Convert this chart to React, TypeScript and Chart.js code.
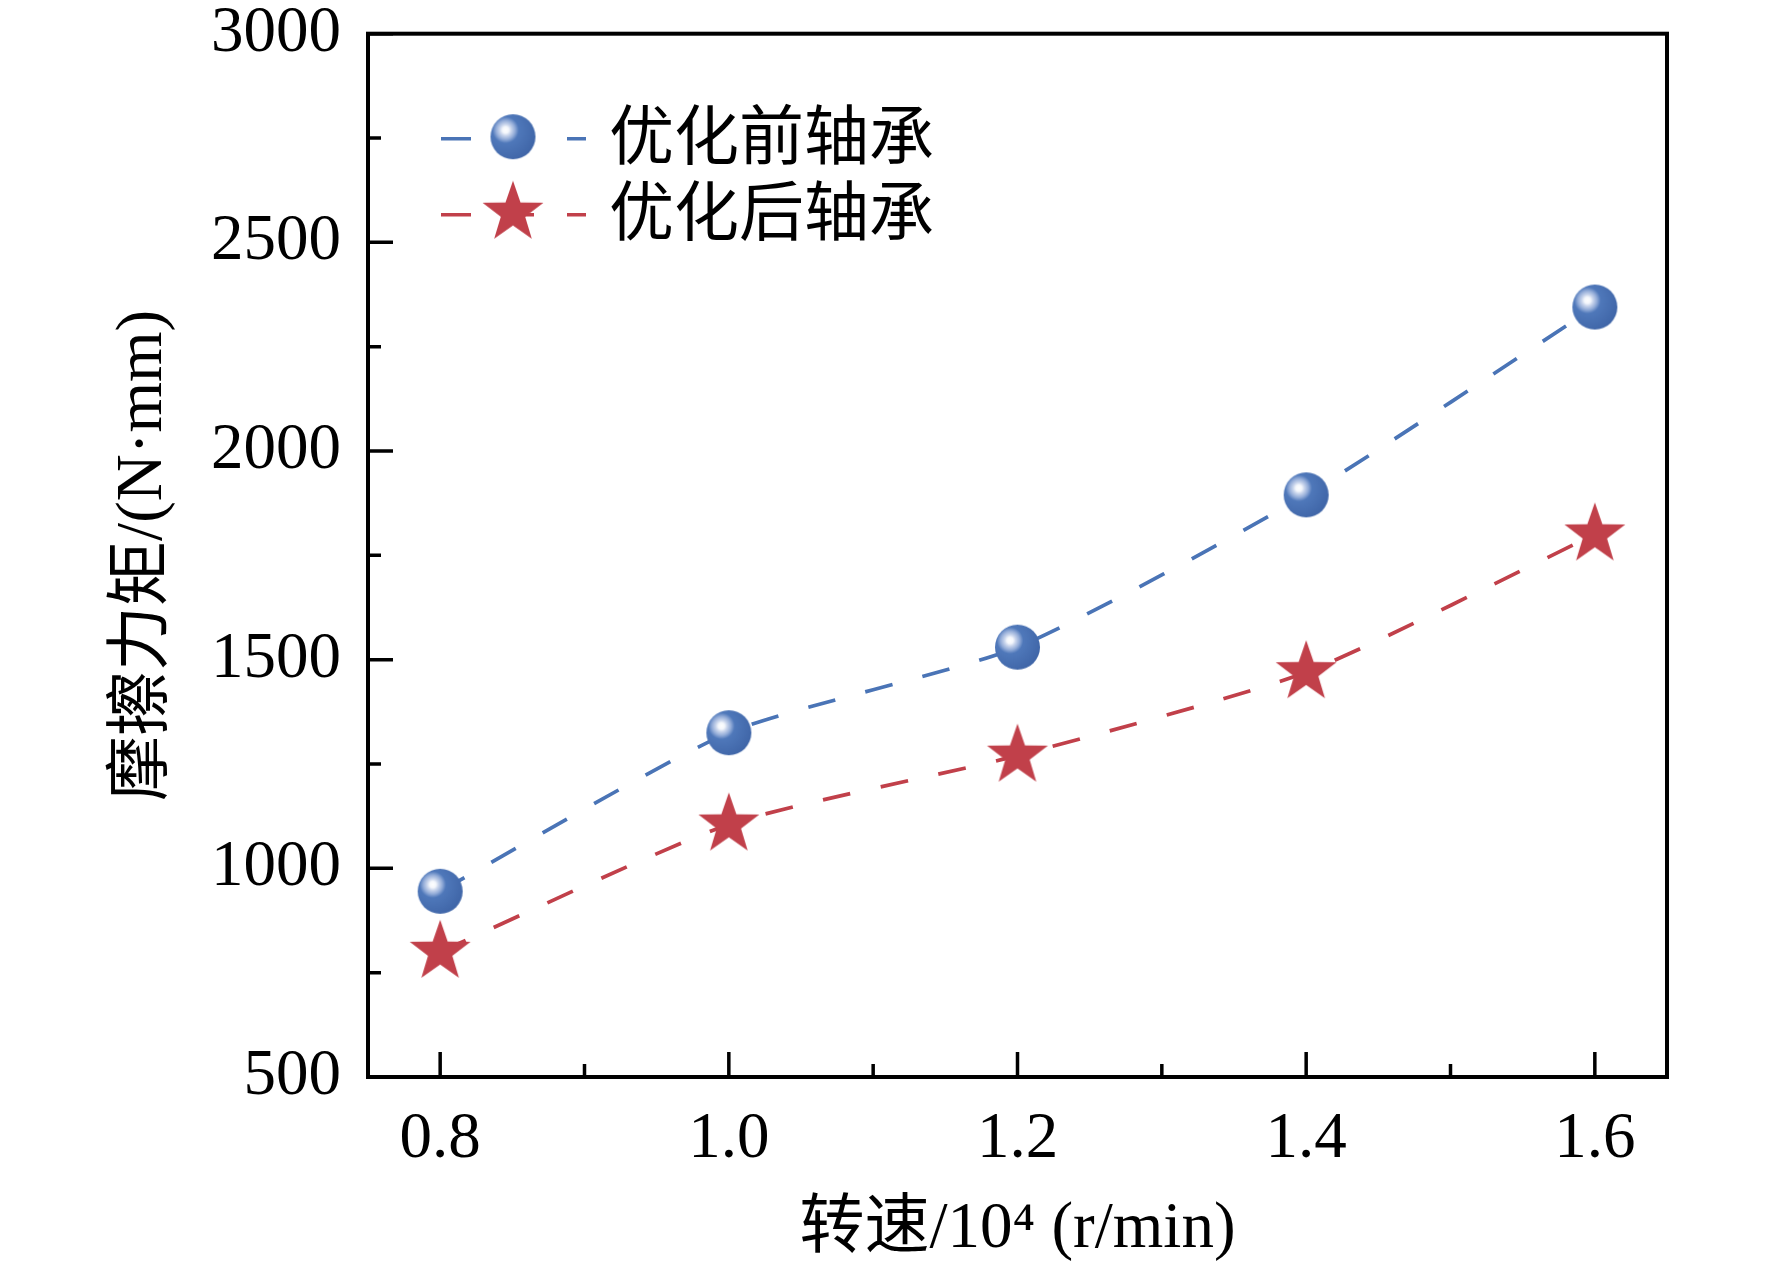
import { useEffect, useRef } from "react";
import { Chart, registerables } from "chart.js";

Chart.register(...registerables);

// data
const speeds = [0.8, 1.0, 1.2, 1.4, 1.6];
const beforeOpt = [945, 1325, 1530, 1895, 2345];
const afterOpt = [800, 1105, 1270, 1470, 1800];
const seriesNames = ["优化前轴承", "优化后轴承"];

const xTicks = [0.8, 1.0, 1.2, 1.4, 1.6];
const xMinor = [0.9, 1.1, 1.3, 1.5];
const yTicks = [500, 1000, 1500, 2000, 2500, 3000];
const yMinor = [750, 1250, 1750, 2250, 2750];

const BLUE = "#4a74b6";
const RED = "#c1404a";
const FONT = '"Liberation Serif", "Noto Sans CJK SC", serif';

function makeBall(r: number) {
  const c = document.createElement("canvas");
  const s = Math.ceil(r * 2 + 4);
  c.width = s;
  c.height = s;
  const g = c.getContext("2d")!;
  const cx = s / 2;
  const cy = s / 2;
  const hx = cx - r * 0.33;
  const hy = cy - r * 0.3;
  const grad = g.createRadialGradient(hx, hy, 0, hx, hy, r * 1.4);
  grad.addColorStop(0, "#ffffff");
  grad.addColorStop(0.1, "#f4f7fc");
  grad.addColorStop(0.18, "#c9d5ec");
  grad.addColorStop(0.3, "#93acd8");
  grad.addColorStop(0.42, "#4f78ba");
  grad.addColorStop(1, "#4066a8");
  g.fillStyle = grad;
  g.beginPath();
  g.arc(cx, cy, r, 0, Math.PI * 2);
  g.fill();
  return c;
}

function makeStar(R: number) {
  const c = document.createElement("canvas");
  const s = Math.ceil(R * 2 + 4);
  c.width = s;
  c.height = s;
  const g = c.getContext("2d")!;
  const cx = s / 2;
  const cy = s / 2;
  const rIn = R * 0.4;
  g.fillStyle = RED;
  g.beginPath();
  for (let k = 0; k < 10; k++) {
    const rr = k % 2 === 0 ? R : rIn;
    const a = -Math.PI / 2 + (k * Math.PI) / 5;
    const px = cx + rr * Math.cos(a);
    const py = cy + rr * Math.sin(a);
    if (k === 0) g.moveTo(px, py);
    else g.lineTo(px, py);
  }
  g.closePath();
  g.fill();
  return c;
}

const frameAndTicks = {
  id: "frameAndTicks",
  afterDraw(chart: any) {
    const { ctx, chartArea: a, scales } = chart;
    const x = scales.x;
    const y = scales.y;
    ctx.save();
    ctx.strokeStyle = "#000";
    ctx.lineWidth = 3.5;
    ctx.setLineDash([]);
    ctx.beginPath();
    xTicks.forEach((v) => {
      const p = x.getPixelForValue(v);
      ctx.moveTo(p, a.bottom);
      ctx.lineTo(p, a.bottom - 25);
    });
    xMinor.forEach((v) => {
      const p = x.getPixelForValue(v);
      ctx.moveTo(p, a.bottom);
      ctx.lineTo(p, a.bottom - 13);
    });
    yTicks.forEach((v) => {
      const p = y.getPixelForValue(v);
      ctx.moveTo(a.left, p);
      ctx.lineTo(a.left + 25, p);
    });
    yMinor.forEach((v) => {
      const p = y.getPixelForValue(v);
      ctx.moveTo(a.left, p);
      ctx.lineTo(a.left + 13, p);
    });
    ctx.stroke();
    ctx.lineWidth = 4;
    ctx.strokeRect(a.left, a.top, a.right - a.left, a.bottom - a.top);
    ctx.restore();
  },
};

export default function App() {
  const chartRef = useRef<HTMLCanvasElement>(null);
  const chartInstanceRef = useRef<Chart | null>(null);

  useEffect(() => {
    if (!chartRef.current) return;
    const ctx = chartRef.current.getContext("2d");
    if (!ctx) return;
    if (chartInstanceRef.current) chartInstanceRef.current.destroy();

    const ball = makeBall(22.5);
    const star = makeStar(32);

    const legendBox = {
      id: "legendBox",
      afterDraw(chart: any) {
        const c = chart.ctx;
        const a = chart.chartArea;
        const rows = [
          { y: a.top + 105, color: BLUE, img: ball, name: seriesNames[0] },
          { y: a.top + 181, color: RED, img: star, name: seriesNames[1] },
        ];
        c.save();
        rows.forEach((r) => {
          c.strokeStyle = r.color;
          c.lineWidth = 3.5;
          c.setLineDash([30, 33]);
          c.beginPath();
          c.moveTo(a.left + 73, r.y);
          c.lineTo(a.left + 218, r.y);
          c.stroke();
          c.setLineDash([]);
          c.drawImage(r.img, a.left + 145 - r.img.width / 2, r.y - 2 - r.img.height / 2);
          c.fillStyle = "#000";
          c.font = "65px " + FONT;
          c.textAlign = "left";
          c.textBaseline = "middle";
          c.fillText(r.name, a.left + 241, r.y + 3);
        });
        c.restore();
      },
    };

    chartInstanceRef.current = new Chart(ctx, {
      type: "line",
      data: {
        datasets: [
          {
            label: seriesNames[0],
            data: speeds.map((s, i) => ({ x: s, y: beforeOpt[i] })),
            borderColor: BLUE,
            borderWidth: 3.7,
            borderDash: [28, 31],
            tension: 0.2,
            pointStyle: ball as any,
            pointRadius: 22,
            fill: false,
          },
          {
            label: seriesNames[1],
            data: speeds.map((s, i) => ({ x: s, y: afterOpt[i] })),
            borderColor: RED,
            borderWidth: 3.7,
            borderDash: [28, 31],
            tension: 0.2,
            pointStyle: star as any,
            pointRadius: 30,
            fill: false,
          },
        ],
      },
      options: {
        animation: false,
        responsive: true,
        maintainAspectRatio: false,
        devicePixelRatio: 1,
        layout: { padding: { top: 32, right: 105, left: 0, bottom: 0 } },
        plugins: {
          legend: { display: false },
          tooltip: { enabled: false },
        },
        scales: {
          x: {
            type: "linear",
            min: 0.75,
            max: 1.65,
            afterFit: (s: any) => {
              s.height = 192;
              s.paddingLeft = 0;
              s.paddingRight = 0;
            },
            afterBuildTicks: (s: any) => {
              s.ticks = xTicks.map((v) => ({ value: v }));
            },
            grid: { display: false, drawTicks: false },
            border: { display: false },
            ticks: {
              color: "#000",
              font: { family: FONT, size: 65 },
              padding: 24,
              maxRotation: 0,
              callback: (v: any) => Number(v).toFixed(1),
            },
            title: {
              display: true,
              text: "转速/10⁴ (r/min)",
              color: "#000",
              font: { family: FONT, size: 65 },
              padding: { top: 0, bottom: 0 },
            },
          },
          y: {
            type: "linear",
            min: 500,
            max: 3000,
            afterFit: (s: any) => {
              s.width = 368;
              s.paddingTop = 0;
              s.paddingBottom = 0;
            },
            afterBuildTicks: (s: any) => {
              s.ticks = yTicks.map((v) => ({ value: v }));
            },
            grid: { display: false, drawTicks: false },
            border: { display: false },
            ticks: {
              color: "#000",
              font: { family: FONT, size: 65 },
              padding: 27,
              callback: (v: any) => String(v),
            },
            title: {
              display: true,
              text: "摩擦力矩/(N·mm)",
              color: "#000",
              font: { family: FONT, size: 65 },
              padding: { top: 105, bottom: 0 },
            },
          },
        },
      },
      plugins: [frameAndTicks, legendBox],
    });

    return () => {
      if (chartInstanceRef.current) {
        chartInstanceRef.current.destroy();
        chartInstanceRef.current = null;
      }
    };
  }, []);

  return (
    <div style={{ position: "fixed", left: 0, top: 0, width: 1772, height: 1269, background: "#fff" }}>
      <canvas ref={chartRef} />
    </div>
  );
}
